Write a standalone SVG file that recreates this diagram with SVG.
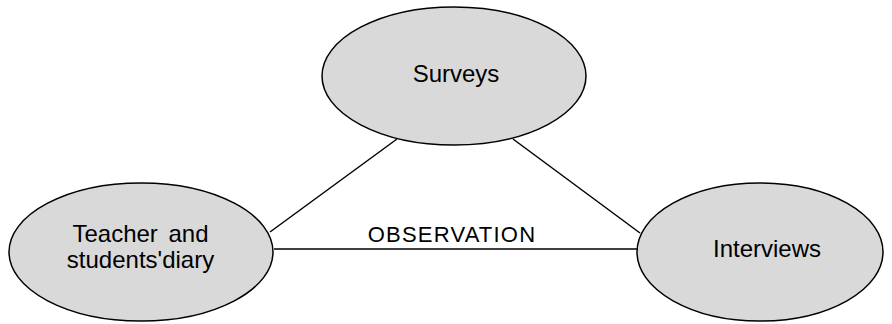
<svg xmlns="http://www.w3.org/2000/svg" width="892" height="324" viewBox="0 0 892 324">
<style>
.node ellipse{fill:#d9d9d9;stroke:#000;stroke-width:1.5}
.t{font-family:"Liberation Sans",Arial,sans-serif;font-size:24px;fill:#000;text-anchor:middle}
.edges line{stroke:#000;stroke-width:1.5}
</style>
<rect width="892" height="324" fill="#fff"/>
<g class="edges">
<line x1="270" y1="232" x2="397" y2="139"/>
<line x1="513" y1="139" x2="640" y2="233"/>
<line x1="274" y1="249" x2="638" y2="249"/>
</g>
<g id="surveys" class="node">
<ellipse cx="454" cy="76" rx="132" ry="69"/>
<text class="t" x="456" y="82">Surveys</text>
</g>
<g id="diary" class="node">
<ellipse cx="141" cy="252" rx="132" ry="69"/>
<text class="t" x="140.5" y="242" style="word-spacing:4px">Teacher and</text>
<text class="t" x="140.5" y="268">students'diary</text>
</g>
<g id="interviews" class="node">
<ellipse cx="760" cy="252" rx="123" ry="69"/>
<text class="t" x="767" y="257">Interviews</text>
</g>
<text class="t" x="452" y="242" style="font-size:22px;letter-spacing:1.2px">OBSERVATION</text>
</svg>
